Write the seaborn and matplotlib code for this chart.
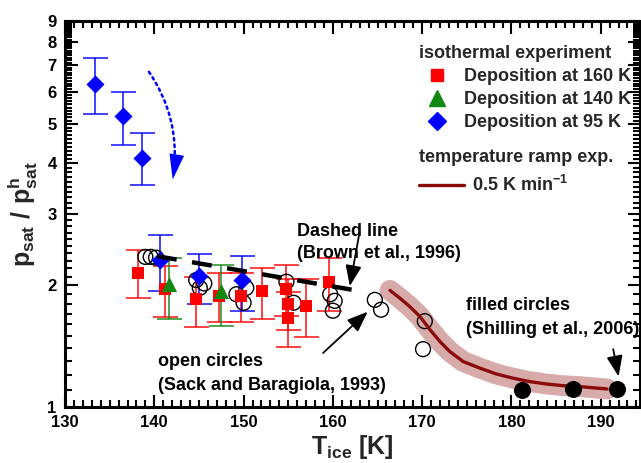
import numpy as np
import pandas as pd
import matplotlib
matplotlib.use("Agg")
import matplotlib.pyplot as plt
import seaborn as sns
from matplotlib.ticker import FixedLocator, NullFormatter, FixedFormatter
from matplotlib.lines import Line2D
from matplotlib.patches import FancyArrowPatch

# ---------------- data ----------------
blue_T = [133.4, 136.5, 138.6, 140.6, 145.0, 149.8]
blue_v = [6.28, 5.24, 4.12, 2.31, 2.11, 2.06]
blue_lo = [5.29, 4.44, 3.53, 1.94, 1.80, 1.73]
blue_hi = [7.31, 6.01, 4.77, 2.66, 2.39, 2.36]

red_T = [138.2, 141.2, 144.7, 147.3, 149.7, 152.1, 154.7, 155.0, 155.0, 157.0, 159.6]
red_v = [2.15, 1.96, 1.85, 1.88, 1.88, 1.93, 1.96, 1.80, 1.66, 1.78, 2.04]
red_lo = [1.86, 1.67, 1.58, 1.62, 1.62, 1.65, 1.68, 1.55, 1.41, 1.49, 1.73]
red_hi = [2.44, 2.23, 2.10, 2.14, 2.14, 2.21, 2.24, 2.07, 1.92, 2.07, 2.34]

green_T = [141.6, 147.5]
green_v = [2.01, 1.93]
green_lo = [1.65, 1.59]
green_hi = [2.34, 2.24]

sack_T = [139.0, 139.6, 140.2, 144.7, 145.1, 145.6, 149.2, 150.0, 150.3,
          154.8, 155.6, 159.7, 160.2, 160.0, 164.7, 165.4, 170.3, 170.1]
sack_v = [2.35, 2.35, 2.34, 2.06, 1.97, 2.02, 1.90, 1.81, 1.97,
          2.04, 1.81, 1.90, 1.83, 1.73, 1.84, 1.74, 1.63, 1.39]

brown_T = [140.3, 162.1]
brown_v = [2.36, 1.95]

ramp_T = [166.4, 167.5, 168.6, 169.75, 170.9, 172.0, 173.1, 174.6, 176.5,
          178.3, 180.2, 182.1, 183.9, 185.8, 187.7, 190.7]
ramp_v = [1.942, 1.859, 1.772, 1.674, 1.551, 1.451, 1.371, 1.295, 1.247,
          1.207, 1.178, 1.155, 1.140, 1.129, 1.123, 1.108]

shilling_T = [181.2, 186.9, 191.8]
shilling_v = [1.10, 1.105, 1.11]

x_ticks = [130, 140, 150, 160, 170, 180, 190]
y_ticks = [1, 2, 3, 4, 5, 6, 7, 8, 9]
y_ticklabels = ["1", "2", "3", "4", "5", "6", "7", "8", "9"]

legend_iso = ["Deposition at 160 K", "Deposition at 140 K", "Deposition at 95 K"]

# ---------------- style ----------------
sns.set_theme(style="ticks")
plt.rcParams["font.family"] = ["Liberation Sans", "DejaVu Sans"]
plt.rcParams["font.weight"] = "bold"
plt.rcParams["mathtext.fontset"] = "custom"
plt.rcParams["mathtext.rm"] = "Liberation Sans:bold"
plt.rcParams["mathtext.it"] = "Liberation Sans:bold"
plt.rcParams["mathtext.bf"] = "Liberation Sans:bold"

W, H = 641, 463
fig = plt.figure(figsize=(W / 100, H / 100), dpi=100)
ax = fig.add_axes([65 / W, 56 / H, 575 / W, 386 / H])

RED = "#ff0000"
GREEN = "#118811"
BLUE = "#0000ff"
MAROON = "#8b0a0a"

def fx(px):
    return px / W

def fy(py):
    return 1 - py / H

# error bars
for T, v, lo, hi, c in [(red_T, red_v, red_lo, red_hi, RED),
                        (green_T, green_v, green_lo, green_hi, GREEN),
                        (blue_T, blue_v, blue_lo, blue_hi, BLUE)]:
    v = np.array(v); lo = np.array(lo); hi = np.array(hi)
    ax.errorbar(T, v, yerr=[v - lo, hi - v], fmt="none", ecolor=c,
                elinewidth=1.3, capsize=9, capthick=1.3, zorder=2, alpha=0.8)

# ramp band + curve
ramp = pd.DataFrame({"T": ramp_T, "v": ramp_v})
sns.lineplot(data=ramp, x="T", y="v", ax=ax, sort=False, estimator=None,
             color="#d8abab", linewidth=15, solid_capstyle="round",
             solid_joinstyle="round", zorder=1)
sns.lineplot(data=ramp, x="T", y="v", ax=ax, sort=False, estimator=None,
             color=MAROON, linewidth=2.4, solid_joinstyle="round", zorder=5)

# open circles (Sack and Baragiola)
sack = pd.DataFrame({"T": sack_T, "v": sack_v})
sns.scatterplot(data=sack, x="T", y="v", ax=ax, marker="o", s=115,
                color="black", linewidth=1.0, zorder=3)
ax.collections[-1].set_facecolor("none")
ax.collections[-1].set_edgecolor("black")

# isothermal markers
sns.scatterplot(x=red_T, y=red_v, ax=ax, marker="s", s=68, color=RED,
                edgecolor=RED, linewidth=0, zorder=4)
sns.scatterplot(x=green_T, y=green_v, ax=ax, marker="^", s=120, color=GREEN,
                edgecolor=GREEN, linewidth=0, zorder=4)
sns.scatterplot(x=blue_T, y=blue_v, ax=ax, marker="D", s=85, color=BLUE,
                edgecolor=BLUE, linewidth=0, zorder=4)

# filled circles (Shilling)
sns.scatterplot(x=shilling_T, y=shilling_v, ax=ax, marker="o", s=150,
                color="black", edgecolor="black", linewidth=0, zorder=6)

# dashed line (Brown)
brown = pd.DataFrame({"T": brown_T, "v": brown_v})
sns.lineplot(data=brown, x="T", y="v", ax=ax, sort=False, estimator=None,
             color="black", linewidth=3.2, zorder=6)
ax.lines[-1].set_dashes([4.5, 3.5])

# axes
ax.set_yscale("log")
ax.set_xlim(130, 194.4)
ax.set_ylim(1, 9)
ax.xaxis.set_major_locator(FixedLocator(x_ticks))
ax.xaxis.set_minor_locator(FixedLocator(np.arange(130, 195, 1)))
ax.yaxis.set_major_locator(FixedLocator(y_ticks))
ax.yaxis.set_major_formatter(FixedFormatter(y_ticklabels))
minor_y = [round(t, 1) for t in np.arange(1.1, 9.0, 0.1) if abs(t - round(t)) > 1e-6]
ax.yaxis.set_minor_locator(FixedLocator(minor_y))
ax.yaxis.set_minor_formatter(NullFormatter())
ax.tick_params(which="both", direction="in", top=True, right=True,
               labelsize=12, width=1.5, colors="black")
ax.tick_params(which="major", length=9, pad=6)
ax.tick_params(which="minor", length=5)
for lab in ax.get_xticklabels() + ax.get_yticklabels():
    lab.set_fontweight("bold")
for s in ax.spines.values():
    s.set_linewidth(2.2)
    s.set_color("black")

ax.set_xlabel(r"$\mathregular{T_{ice}}$ [K]", fontsize=18, fontweight="bold", labelpad=2)
ax.set_ylabel(r"$\mathregular{p_{sat}\ /\ p^{h}_{sat}}$", fontsize=18, fontweight="bold")
ax.yaxis.set_label_coords(-0.043, 0.5)

# legends
h_iso = [Line2D([], [], marker="s", ls="none", color=RED, ms=8),
         Line2D([], [], marker="^", ls="none", color=GREEN, ms=11),
         Line2D([], [], marker="D", ls="none", color=BLUE, ms=9)]
leg1 = ax.legend(h_iso, legend_iso, title="isothermal experiment",
                 loc="upper left", bbox_to_anchor=(fx(419), fy(45)),
                 bbox_transform=fig.transFigure, frameon=False,
                 prop={"weight": "bold", "size": 13},
                 title_fontproperties={"weight": "bold", "size": 13},
                 handlelength=2.0, handletextpad=0.5, labelspacing=0.34,
                 borderpad=0, borderaxespad=0, alignment="left")
ax.add_artist(leg1)
h_ramp = [Line2D([], [], color=MAROON, lw=2.4)]
ax.legend(h_ramp, [r"0.5 K min$^{\mathregular{-1}}$"], title="temperature ramp exp.",
          loc="upper left", bbox_to_anchor=(fx(419), fy(149)),
          bbox_transform=fig.transFigure, frameon=False,
          prop={"weight": "bold", "size": 13},
          title_fontproperties={"weight": "bold", "size": 13},
          handlelength=2.5, handletextpad=0.44, borderpad=0, borderaxespad=0,
          alignment="left")

# annotations
txt = dict(fontsize=13, fontweight="bold", color="black", transform=fig.transFigure,
           va="center", ha="left")
fig.text(fx(297), fy(232), "Dashed line", **txt)
fig.text(fx(297), fy(253), "(Brown et al., 1996)", **txt)
fig.text(fx(158), fy(362), "open circles", **txt)
fig.text(fx(158), fy(386), "(Sack and Baragiola, 1993)", **txt)
fig.text(fx(466), fy(305), "filled circles", **txt)
fig.text(fx(466), fy(329), "(Shilling et al., 2006)", **txt)

arr = dict(arrowstyle="-|>,head_length=0.9,head_width=0.35", color="black",
           lw=1.3, mutation_scale=14, shrinkA=0, shrinkB=0)
ax.annotate("", xy=(161.9, 1.99), xytext=(163.0, 2.71), arrowprops=arr, zorder=7)
ax.annotate("", xy=(163.9, 1.72), xytext=(158.9, 1.36), arrowprops=arr, zorder=7)
ax.annotate("", xy=(192.0, 1.19), xytext=(191.4, 1.39), arrowprops=arr, zorder=7)

# dotted curved blue arrow: dotted shaft + solid filled head
p_start, p_end = (139.4, 6.74), (142.06, 3.65)
shaft = FancyArrowPatch(p_start, p_end, connectionstyle="arc3,rad=-0.2",
                        arrowstyle="-", color=BLUE, lw=1.8,
                        linestyle=(0, (1, 1.6)), shrinkA=0, shrinkB=8, zorder=7)
ax.add_patch(shaft)
head = FancyArrowPatch(p_start, p_end, connectionstyle="arc3,rad=-0.2",
                       arrowstyle="-|>,head_length=1.3,head_width=0.38",
                       mutation_scale=14, facecolor=BLUE, edgecolor=BLUE, lw=0,
                       shrinkA=0, shrinkB=0, zorder=7)
ax.add_patch(head)

fig.savefig("out.png", dpi=100)
